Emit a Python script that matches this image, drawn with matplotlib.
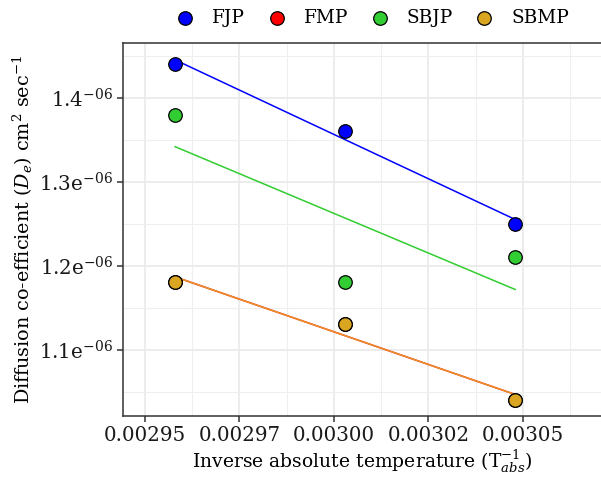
import numpy as np
import matplotlib
matplotlib.use("Agg")
import matplotlib.pyplot as plt
from matplotlib.ticker import FixedLocator, MultipleLocator

# =======================================
# データ
# =======================================
inv_temp = np.array([0.002958, 0.003003, 0.003048])
fjp = np.array([1.44e-06, 1.36e-06, 1.25e-06])
fmp = np.array([1.18e-06, 1.13e-06, 1.04e-06])
sbjp = np.array([1.38e-06, 1.18e-06, 1.21e-06])
sbmp = np.array([1.18e-06, 1.13e-06, 1.04e-06])

series_names = ["FJP", "FMP", "SBJP", "SBMP"]
point_colors = ["#0000FF", "#FF0000", "#32CD32", "#DAA520"]
line_colors = ["#0000FF", "#FF0000", "#32CD32", "#E8912A"]

x_ticks = [0.002950, 0.002975, 0.003000, 0.003025, 0.003050]
x_labels = ["0.00295", "0.00297", "0.00300", "0.00302", "0.00305"]
y_ticks = [1.1e-06, 1.2e-06, 1.3e-06, 1.4e-06]
y_labels = ["1.1e$^{-06}$", "1.2e$^{-06}$", "1.3e$^{-06}$", "1.4$^{-06}$"]
x_minor = [0.0029625, 0.0029875, 0.0030125, 0.0030375, 0.0030625]

# =======================================
# 描画
# =======================================
plt.rcParams["font.family"] = ["DejaVu Serif"]
plt.rcParams["mathtext.fontset"] = "dejavuserif"

fig = plt.figure(figsize=(6.01, 4.79), dpi=100)
ax = fig.add_axes([123 / 601, 63 / 479, 478 / 601, 373 / 479])
ax.patch.set_edgecolor("none")

for ys, pc, lc, name in zip([fjp, fmp, sbjp, sbmp], point_colors, line_colors, series_names):
    slope, icpt = np.polyfit(inv_temp, ys, 1)
    xx = np.array([inv_temp.min(), inv_temp.max()])
    ax.plot(xx, slope * xx + icpt, color=lc, lw=1.1, zorder=2)
    ax.scatter(inv_temp, ys, s=95, color=pc, edgecolor="black", linewidth=0.9,
               zorder=3, label=name)

ax.set_xlim(0.0029442, 0.0030707)
ax.set_ylim(1.02107e-06, 1.46512e-06)

ax.xaxis.set_major_locator(FixedLocator(x_ticks))
ax.set_xticklabels(x_labels)
ax.xaxis.set_minor_locator(FixedLocator(x_minor))
ax.yaxis.set_major_locator(FixedLocator(y_ticks))
ax.set_yticklabels(y_labels)
ax.yaxis.set_minor_locator(MultipleLocator(0.05e-06))

ax.grid(which="major", color="#EBEBEB", lw=1.3)
ax.grid(which="minor", color="#EFEFEF", lw=0.8)
ax.set_axisbelow(True)

for side in ["left", "bottom", "top"]:
    ax.spines[side].set_color("#333333")
    ax.spines[side].set_linewidth(1.1)
ax.spines["right"].set_color("none")
ax.spines["right"].set_visible(False)

ax.tick_params(which="major", length=4, width=1.1, color="#333333",
               labelsize=14.3, labelcolor="#1A1A1A", pad=3)
ax.tick_params(which="minor", length=0)

ax.set_xlabel("Inverse absolute temperature (T$_{abs}^{-1}$)", fontsize=13.5, labelpad=3)
ax.set_ylabel("Diffusion co-efficient ($D_e$) cm$^2$ sec$^{-1}$", fontsize=13.8, labelpad=3)

fig.legend(loc="center", bbox_to_anchor=(368 / 601, 1 - 18 / 479), ncol=4,
           frameon=False, fontsize=13.3, handletextpad=0.47, columnspacing=0.7,
           borderaxespad=0, scatterpoints=1)

fig.savefig("out.png", dpi=100)
